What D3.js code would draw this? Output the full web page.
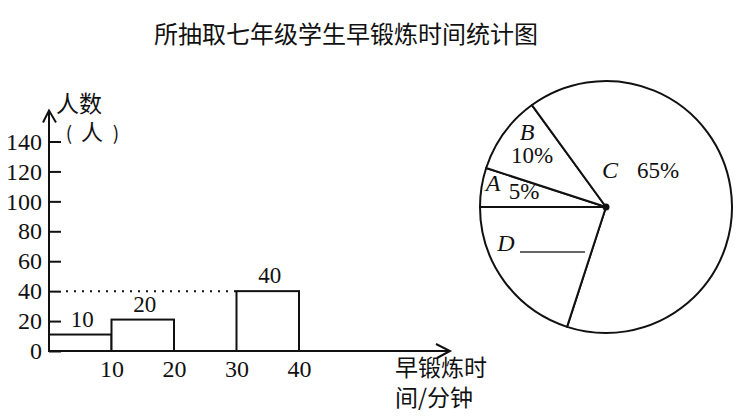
<!DOCTYPE html>
<html>
<head>
<meta charset="utf-8">
<script src="https://cdn.jsdelivr.net/npm/d3@7"></script>
<style>
    body { margin: 0; background: #fff; }
    svg { display: block; }
    .num { font-family: "Liberation Serif", "Times New Roman", serif; font-size: 24px; fill: #111; }
    .cjk { font-family: "Noto Sans CJK SC", sans-serif; fill: #111; }
    .letter { font-family: "Liberation Serif", "Times New Roman", serif; font-style: italic; font-size: 24px; fill: #111; }
</style>
</head>
<body>
<div id="chartContainer"></div>
<script>
// histogram data
const binStarts = [0, 10, 30];
const binEnds = [10, 20, 40];
const counts = [11, 21, 40];
const countLabels = ['10', '20', '40'];
const yTicks = [0, 20, 40, 60, 80, 100, 120, 140];
const xTicks = [10, 20, 30, 40];

// pie data
const categories = ['A', 'B', 'C', 'D'];
const shares = [5, 10, 65, 20];
const shareLabels = ['5%', '10%', '65%', ''];

const title = '所抽取七年级学生早锻炼时间统计图';

const width = 736;
const height = 420;

const svg = d3.select('#chartContainer')
    .append('svg')
    .attr('width', width)
    .attr('height', height);

svg.append('text')
    .attr('class', 'cjk')
    .attr('x', 346)
    .attr('y', 43)
    .attr('text-anchor', 'middle')
    .style('font-size', '24px')
    .text(title);

// ---- histogram ----
const x = d3.scaleLinear().domain([0, 40]).range([49, 299]);
const y = d3.scaleLinear().domain([0, 140]).range([351, 141.5]);
const x0 = x(0);
const y0 = y(0);

const yAxis = svg.append('g')
    .attr('transform', `translate(${x0},0)`)
    .call(d3.axisLeft(y).tickValues(yTicks).tickSize(-12).tickPadding(7));
yAxis.select('.domain').remove();
yAxis.selectAll('.tick line').attr('stroke', '#111').attr('stroke-width', 2);
yAxis.selectAll('.tick text').attr('class', 'num').attr('font-family', null).attr('font-size', null);

const xAxis = svg.append('g')
    .attr('transform', `translate(0,${y0})`)
    .call(d3.axisBottom(x).tickValues(xTicks).tickSize(0).tickPadding(9));
xAxis.select('.domain').remove();
xAxis.selectAll('.tick text').attr('class', 'num').attr('font-family', null).attr('font-size', null);

// dotted guide at the tallest bar
const tallest = d3.maxIndex(counts);
svg.append('line')
    .attr('x1', x0 + 17)
    .attr('x2', x(binStarts[tallest]))
    .attr('y1', y(counts[tallest]))
    .attr('y2', y(counts[tallest]))
    .attr('stroke', '#111')
    .attr('stroke-width', 2)
    .attr('stroke-dasharray', '2,6');

svg.append('g')
    .selectAll('.bar')
    .data(counts)
    .enter().append('rect')
    .attr('class', 'bar')
    .attr('x', (d, i) => x(binStarts[i]))
    .attr('y', d => y(d))
    .attr('width', (d, i) => x(binEnds[i]) - x(binStarts[i]))
    .attr('height', d => y0 - y(d))
    .attr('fill', '#fff')
    .attr('stroke', '#111')
    .attr('stroke-width', 2);

svg.append('g')
    .selectAll('text')
    .data(counts)
    .enter().append('text')
    .attr('class', 'num')
    .attr('text-anchor', 'middle')
    .style('font-size', '23px')
    .attr('x', (d, i) => (x(binStarts[i]) + x(binEnds[i])) / 2 + 2)
    .attr('y', d => y(d) - 8)
    .text((d, i) => countLabels[i]);

// axis lines with open arrow heads
const axisTop = y(140) - 31;
const axisRight = x(40) + 151;
svg.append('path')
    .attr('d', `M${x0},${y0}V${axisTop}M${x0 - 6},${axisTop + 12}L${x0},${axisTop}L${x0 + 7},${axisTop + 12}`)
    .attr('fill', 'none')
    .attr('stroke', '#111')
    .attr('stroke-width', 2);
svg.append('path')
    .attr('d', `M${x0},${y0}H${axisRight}M${axisRight - 14},${y0 - 7}L${axisRight},${y0}L${axisRight - 13},${y0 + 7}`)
    .attr('fill', 'none')
    .attr('stroke', '#111')
    .attr('stroke-width', 2);

svg.append('text')
    .attr('class', 'cjk')
    .attr('x', x0 + 7)
    .attr('y', 112)
    .style('font-size', '23px')
    .text('人数');
const unit = svg.append('text')
    .attr('class', 'cjk')
    .attr('y', 140)
    .attr('text-anchor', 'middle')
    .style('font-size', '22px');
unit.append('tspan').attr('x', 69).style('font-size', '19px').text('(');
unit.append('tspan').attr('x', 92).text('人');
unit.append('tspan').attr('x', 116).style('font-size', '19px').text(')');

const xLabel = svg.append('text')
    .attr('class', 'cjk')
    .style('font-size', '23px');
xLabel.append('tspan').attr('x', 395).attr('y', 376).text('早锻炼时');
xLabel.append('tspan').attr('x', 395).attr('y', 406).text('间/分钟');

// ---- pie ----
const cx = 606;
const cy = 207;
const radius = 126;

const pie = d3.pie()
    .sort(null)
    .startAngle(-Math.PI / 2)
    .endAngle(Math.PI * 1.5);
const arc = d3.arc().innerRadius(0).outerRadius(radius);

const pieG = svg.append('g').attr('transform', `translate(${cx},${cy})`);

pieG.selectAll('path')
    .data(pie(shares))
    .enter().append('path')
    .attr('d', arc)
    .attr('fill', '#fff')
    .attr('stroke', '#111')
    .attr('stroke-width', 2)
    .attr('stroke-linejoin', 'round');

pieG.append('circle').attr('r', 3.5).attr('fill', '#111');

// label spots inside each slice, relative to the centre
const labelSpots = {
    A: { letter: [-113, -24], pct: [-82, -16] },
    B: { letter: [-79, -75], pct: [-74, -52] },
    C: { letter: [4, -37], pct: [52, -37] },
    D: { letter: [-100, 36], pct: [-53, 45] }
};

categories.forEach((c, i) => {
    const spot = labelSpots[c];
    pieG.append('text')
        .attr('class', 'letter')
        .attr('text-anchor', 'middle')
        .attr('x', spot.letter[0])
        .attr('y', spot.letter[1])
        .attr('dy', '0.35em')
        .text(c);
    if (shareLabels[i]) {
        pieG.append('text')
            .attr('class', 'num')
            .attr('text-anchor', 'middle')
            .style('font-size', '23px')
            .attr('x', spot.pct[0])
            .attr('y', spot.pct[1])
            .attr('dy', '0.35em')
            .text(shareLabels[i]);
    } else {
        // blank to be filled in
        pieG.append('line')
            .attr('x1', spot.pct[0] - 33)
            .attr('x2', spot.pct[0] + 32)
            .attr('y1', spot.pct[1])
            .attr('y2', spot.pct[1])
            .attr('stroke', '#333')
            .attr('stroke-width', 1.5);
    }
});
</script>
</body>
</html>
